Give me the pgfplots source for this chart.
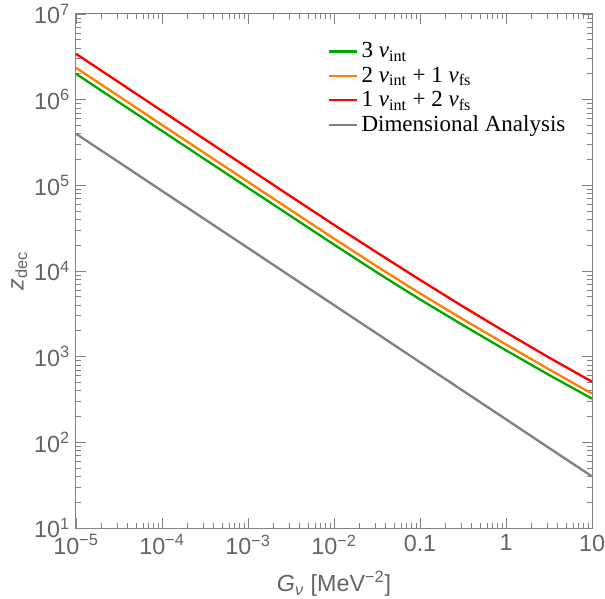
\documentclass[border=0pt]{standalone}
\usepackage{pgfplots}
\pgfplotsset{compat=1.18}
\usepackage{fontspec}
\setmainfont{Liberation Sans}
\newfontfamily\legfont{Liberation Serif}
\definecolor{mgreen}{RGB}{0,168,0}
\definecolor{morange}{RGB}{255,128,0}
\definecolor{mred}{RGB}{255,0,0}
\definecolor{mgray}{RGB}{128,128,128}
\definecolor{axgray}{RGB}{130,130,130}
\definecolor{labgray}{RGB}{100,100,100}
\begin{document}
\begin{tikzpicture}
\begin{axis}[
  name=ax,
  scale only axis,
  width=309.6pt, height=308.4pt,
  xmode=log, ymode=log,
  xmin=1e-5, xmax=10, ymin=10, ymax=1e7,
  xtick={1e-5,1e-4,1e-3,1e-2,1e-1,1,10},
  xticklabels={10\textsuperscript{−5},10\textsuperscript{−4},10\textsuperscript{−3},10\textsuperscript{−2},0.1,1,10},
  ytick={1e1,1e2,1e3,1e4,1e5,1e6,1e7},
  yticklabels={10\textsuperscript{1},10\textsuperscript{2},10\textsuperscript{3},10\textsuperscript{4},10\textsuperscript{5},10\textsuperscript{6},10\textsuperscript{7}},
  tick label style={font=\fontsize{14}{16}\selectfont, text=labgray},
  xticklabel style={yshift=-0.5pt},
  tick align=inside,
  major tick length=6pt, minor tick length=3pt,
  every tick/.style={axgray, line width=0.5pt},
  axis line style={axgray, line width=0.6pt},
  xlabel={\textit{G}\textsubscript{\textit{ν}} [MeV\textsuperscript{−2}]},
  ylabel={\textit{z}\textsubscript{dec}},
  label style={font=\fontsize{14}{16}\selectfont, text=labgray},
  xlabel style={yshift=-3pt},
  ylabel style={at={(axis description cs:-0.11,0.5)}, anchor=center},
  legend style={at={(0.477,0.958)}, anchor=north west, draw=none, fill=none,
    font=\legfont\fontsize{13.8}{16}\selectfont, row sep=0pt},
  legend cell align=left,
]
\addplot[mgreen, line width=1.4pt] coordinates {
(1e-5,2.004e6) (3.162e-5,9.31e5) (1e-4,4.315e5) (3.162e-4,2.009e5) (1e-3,9.35e4)
(3.162e-3,4.355e4) (1e-2,2.032e4) (3.162e-2,9616) (0.1,4656) (0.3162,2333)
(1,1186) (3.162,612) (10,323.6)};
\addlegendentry{3 \textit{ν}\textsubscript{int}}
\addplot[morange, line width=1.4pt] coordinates {
(1e-5,2.355e6) (3.162e-5,1.094e6) (1e-4,5.07e5) (3.162e-4,2.36e5) (1e-3,1.099e5)
(3.162e-3,5.117e4) (1e-2,2.388e4) (3.162e-2,1.13e4) (0.1,5470) (0.3162,2729)
(1,1387) (3.162,711) (10,370)};
\addlegendentry{2 \textit{ν}\textsubscript{int} + 1 \textit{ν}\textsubscript{fs}}
\addplot[mred, line width=1.4pt] coordinates {
(1e-5,3.428e6) (3.162e-5,1.592e6) (1e-4,7.38e5) (3.162e-4,3.428e5) (1e-3,1.592e5)
(3.162e-3,7.396e4) (1e-2,3.459e4) (3.162e-2,1.641e4) (0.1,7889) (0.3162,3846)
(1,1923) (3.162,977) (10,510.5)};
\addlegendentry{1 \textit{ν}\textsubscript{int} + 2 \textit{ν}\textsubscript{fs}}
\addplot[mgray, line width=1.4pt] coordinates {
(1e-5,4e5) (3.162e-5,1.858e5) (1e-4,8.61e4) (3.162e-4,4.0e4) (1e-3,1.858e4)
(3.162e-3,8610) (1e-2,4000) (3.162e-2,1858) (0.1,861) (0.3162,400)
(1,185.8) (3.162,86.1) (10,40)};
\addlegendentry{Dimensional Analysis}
\end{axis}
\pgfresetboundingbox
\useasboundingbox ([xshift=-45.6pt,yshift=-42.3pt]ax.south west) rectangle ([xshift=7.8pt,yshift=8.4pt]ax.north east);
\end{tikzpicture}
\end{document}
